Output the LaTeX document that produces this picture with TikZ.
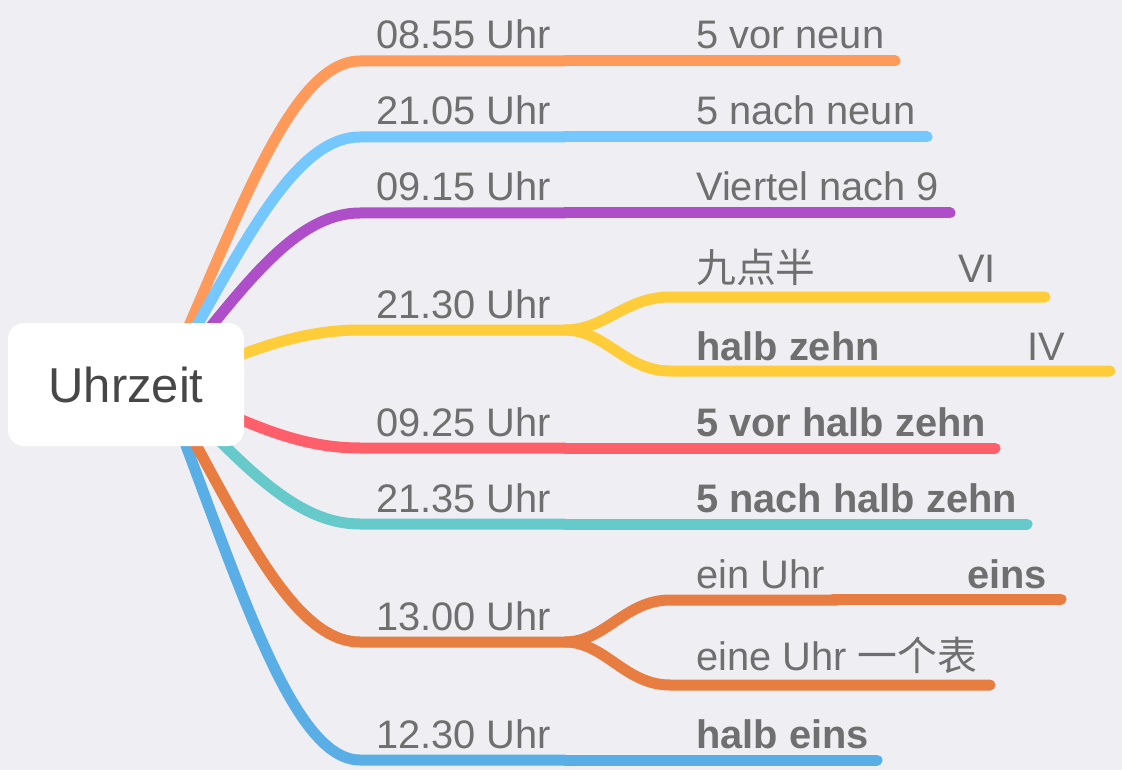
\documentclass[tikz,border=0pt]{standalone}
\usepackage{fontspec}
\setmainfont{Liberation Sans}
\newfontfamily\cjk{Noto Sans CJK SC}
\usetikzlibrary{calc}
\definecolor{bg}{HTML}{EFEEF3}
\definecolor{txt}{HTML}{6F6F6F}
\definecolor{roottxt}{HTML}{474747}
\definecolor{cA}{HTML}{FF9A5A}
\definecolor{cB}{HTML}{74C7FF}
\definecolor{cC}{HTML}{AE4FC9}
\definecolor{cD}{HTML}{FFCD3A}
\definecolor{cE}{HTML}{FF5F6B}
\definecolor{cF}{HTML}{66C9CA}
\definecolor{cG}{HTML}{E77D41}
\definecolor{cH}{HTML}{5AAEE6}
\begin{document}
\begin{tikzpicture}[x=1pt,y=-1pt,
  branch/.style={line width=11pt, line cap=round},
  lbl/.style={anchor=base west, inner sep=0pt, text=txt, font=\fontsize{39.8}{47}\selectfont},
  blbl/.style={lbl, font=\fontsize{39.8}{47}\selectfont\bfseries},
  rootbox/.style={fill=white, rounded corners=16pt, minimum width=236pt, minimum height=123pt, inner sep=0pt, text=roottxt, font=\fontsize{49}{58}\selectfont}]
\fill[bg] (0,0) rectangle (1122,770);
\useasboundingbox (0,0) rectangle (1122,770);
\coordinate (r0) at (163,385);
% level-1 branch coordinates
\coordinate (a1) at (360,61);  \coordinate (a2) at (565,61);
\coordinate (b1) at (360,137); \coordinate (b2) at (565,137);
\coordinate (c1) at (360,213); \coordinate (c2) at (565,213);
\coordinate (d1) at (360,330); \coordinate (d2) at (565,330);
\coordinate (e1) at (360,448); \coordinate (e2) at (565,448);
\coordinate (f1) at (360,524); \coordinate (f2) at (565,524);
\coordinate (g1) at (360,642); \coordinate (g2) at (565,642);
\coordinate (h1) at (360,760); \coordinate (h2) at (565,760);
% level-2 ends
\coordinate (a3) at (895,61);
\coordinate (b3) at (927,137);
\coordinate (c3) at (950,213);
\coordinate (du1) at (670,297); \coordinate (du2) at (1045,297);
\coordinate (dl1) at (670,371); \coordinate (dl2) at (1110,371);
\coordinate (e3) at (995,448);
\coordinate (f3) at (1027,524);
\coordinate (gu1) at (670,600); \coordinate (gu2) at (838,600); \coordinate (gu3) at (833,599); \coordinate (gu4) at (1061,599);
\coordinate (gl1) at (670,685); \coordinate (gl2) at (990,685);
\coordinate (h3) at (877,760);
% level-1 curves
\draw[branch,cA] (r0) .. controls ($(r0)!0.5!(309,61)$) and (290,61) .. (a1) -- (a2);
\draw[branch,cB] (r0) .. controls ($(r0)!0.5!(309,137)$) and (290,137) .. (b1) -- (b2);
\draw[branch,cC] (r0) .. controls ($(r0)!0.5!(309,213)$) and (290,213) .. (c1) -- (c2);
\draw[branch,cD] (r0) .. controls ($(r0)!0.5!(309,330)$) and (290,330) .. (d1) -- (d2);
\draw[branch,cE] (r0) .. controls ($(r0)!0.5!(309,448)$) and (290,448) .. (e1) -- (e2);
\draw[branch,cF] (r0) .. controls ($(r0)!0.5!(309,524)$) and (290,524) .. (f1) -- (f2);
\draw[branch,cH] (r0) .. controls ($(r0)!0.5!(309,760)$) and (290,760) .. (h1) -- (h2);
\draw[branch,cG] (r0) .. controls ($(r0)!0.5!(309,642)$) and (290,642) .. (g1) -- (g2);
% level-2 lines
\draw[branch,cA] (a2) -- (a3);
\draw[branch,cB] (b2) -- (b3);
\draw[branch,cC] (c2) -- (c3);
\draw[branch,cD] (d2) .. controls (605,330) and (625,297) .. (du1) -- (du2);
\draw[branch,cD] (d2) .. controls (605,330) and (625,371) .. (dl1) -- (dl2);
\draw[branch,cE] (e2) -- (e3);
\draw[branch,cF] (f2) -- (f3);
\draw[branch,cG,line cap=butt] (g2) .. controls (605,642) and (625,600) .. (gu1) -- (gu2);
\draw[branch,cG] (gu3) -- (gu4);
\draw[branch,cG] (g2) .. controls (605,642) and (625,685) .. (gl1) -- (gl2);
\draw[branch,cH] (h2) -- (h3);
% root
\node[rootbox] (root) at (126,384.5) {Uhrzeit};
% labels
\node[lbl] (ta) at (376,49) {08.55 Uhr};
\node[lbl] (ua) at (696,49) {5 vor neun};
\node[lbl] (tb) at (376,125) {21.05 Uhr};
\node[lbl] (ub) at (696,125) {5 nach neun};
\node[lbl] (tc) at (376,201) {09.15 Uhr};
\node[lbl] (uc) at (696,201) {Viertel nach 9};
\node[lbl] (td) at (376,318) {21.30 Uhr};
\node[lbl] (ud1) at (696,283) {\cjk 九点半};
\node[lbl] (vd1) at (958,283) {VI};
\node[blbl] (ud2) at (696,360) {halb zehn};
\node[lbl] (vd2) at (1027,360) {IV};
\node[lbl] (te) at (376,436) {09.25 Uhr};
\node[blbl] (ue) at (696,436) {5 vor halb zehn};
\node[lbl] (tf) at (376,512) {21.35 Uhr};
\node[blbl] (uf) at (696,512) {5 nach halb zehn};
\node[lbl] (tg) at (376,630) {13.00 Uhr};
\node[lbl] (ug1) at (696,588) {ein Uhr};
\node[blbl,anchor=base east] (vg1) at (1047,588) {eins};
\node[lbl] (ug2) at (696,670) {eine Uhr {\cjk 一个表}};
\node[lbl] (th) at (376,748) {12.30 Uhr};
\node[blbl] (uh) at (696,748) {halb eins};
\end{tikzpicture}
\end{document}
